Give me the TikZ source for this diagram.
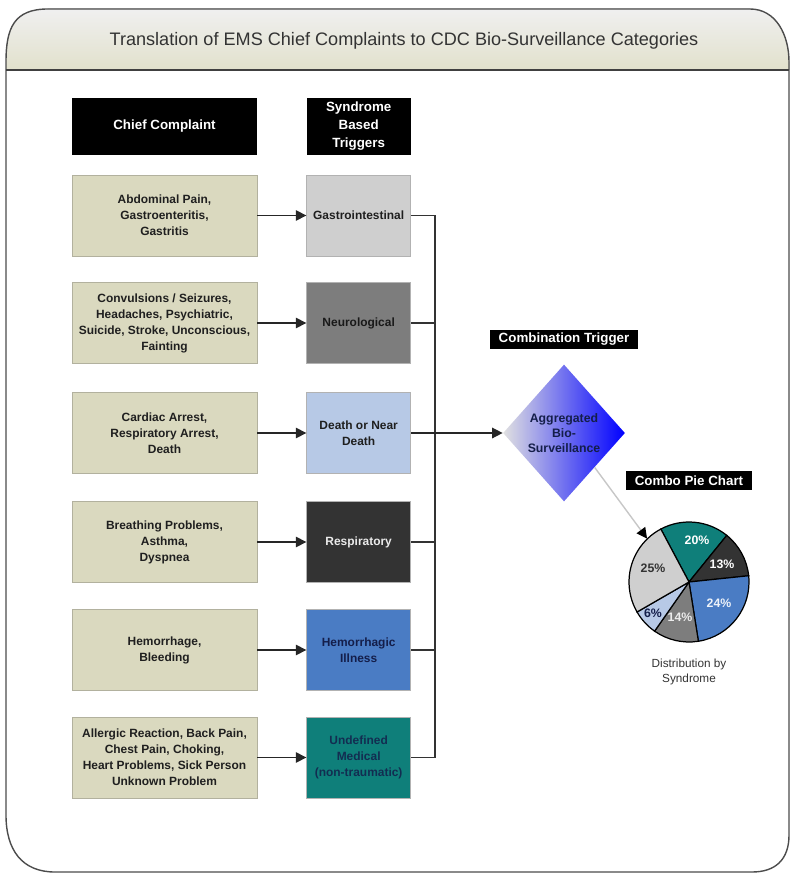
\documentclass[tikz,border=0pt]{standalone}
\usepackage{fontspec}
\setmainfont{Liberation Sans}
\usepackage{xcolor}
\usepackage{tikz}
\usetikzlibrary{calc,positioning,shapes.geometric,arrows.meta}
\definecolor{khaki}{HTML}{DAD9BF}
\definecolor{khakiedge}{HTML}{B2B19E}
\definecolor{gastro}{HTML}{CFCFCF}
\definecolor{neuro}{HTML}{7D7D7D}
\definecolor{death}{HTML}{B7C9E6}
\definecolor{resp}{HTML}{333333}
\definecolor{hemo}{HTML}{4A7CC4}
\definecolor{undef}{HTML}{0F7F7A}
\definecolor{navy}{HTML}{141E4A}
\tikzset{
complaint/.style={
    draw=khakiedge, rectangle, fill=khaki,
    minimum width=3.7cm, minimum height=1.62cm,
    inner sep=2pt, align=center, text=black!88,
    font=\bfseries\fontsize{6.8}{9.1}\selectfont
  }
}

\begin{document}
\begin{tikzpicture}[x=0.02cm,y=0.02cm,
 trigger/.style={
        rectangle, draw=black!30, minimum width=2.08cm,
        minimum height=1.62cm, inner sep=2pt, align=center,
        font=\bfseries\fontsize{6.8}{9.1}\selectfont
    },
 blackbar/.style={rectangle, fill=black, text=white, align=center,
        inner xsep=5pt, inner ysep=1pt,
        font=\bfseries\fontsize{7.6}{10.2}\selectfont},
 frame/.style={draw=black!70, line width=0.8pt},
 link/.style={draw=black!85, line width=0.8pt, -{Triangle[length=6pt,width=6pt]}},
 bus/.style={draw=black!80, line width=0.7pt},
 slice/.style={draw=black, line width=0.7pt},
 pct/.style={font=\bfseries\fontsize{7}{8}\selectfont}
  ]

\useasboundingbox (0,0) rectangle (791,-874);

\fill[top color=black!6, bottom color=khaki!80] (6,-70) -- (6,-62) .. controls (6,-28) and (14,-9) .. (48,-9) -- (750,-9) .. controls (776,-9) and (789,-35) .. (789,-62) -- (789,-70) -- cycle;
\draw[frame] (6,-70) -- (6,-62) .. controls (6,-28) and (14,-9) .. (48,-9) -- (750,-9) .. controls (776,-9) and (789,-35) .. (789,-62) -- (789,-70);
\draw[frame] (6,-70) -- (6,-815) .. controls (6,-850) and (22,-872) .. (55,-872) -- (752,-872) .. controls (775,-872) and (789,-860) .. (789,-835) -- (789,-70);
\draw[draw=black!75, line width=1.3pt] (6,-70) -- (789,-70);
\node[text=black!80, font=\fontsize{10.3}{12}\selectfont] (title) at (404,-41) {Translation of EMS Chief Complaints to CDC Bio-Surveillance Categories};

\node[blackbar, minimum width=3.7cm, minimum height=1.14cm] (H1) at (164.5,-126.5) {Chief Complaint};
\node[blackbar, minimum width=2.08cm, minimum height=1.14cm] (H2) [right=0.98cm of H1] {Syndrome\\Based\\Triggers};

\node[complaint] (C1) at (164.5,-215.5) {Abdominal Pain,\\Gastroenteritis,\\Gastritis};
\node[complaint] (C2) at (164.5,-323) {Convulsions / Seizures,\\Headaches, Psychiatric,\\Suicide, Stroke, Unconscious,\\Fainting};
\node[complaint] (C3) at (164.5,-433) {Cardiac Arrest,\\Respiratory Arrest,\\Death};
\node[complaint] (C4) at (164.5,-542) {Breathing Problems,\\Asthma,\\Dyspnea};
\node[complaint] (C5) at (164.5,-650) {Hemorrhage,\\Bleeding};
\node[complaint] (C6) at (164.5,-757.5) {Allergic Reaction, Back Pain,\\Chest Pain, Choking,\\Heart Problems, Sick Person\\Unknown Problem};

\node[trigger, fill=gastro, text=black!88] (S1) [right=0.98cm of C1] {Gastrointestinal};
\node[trigger, fill=neuro, text=black!90] (S2) [right=0.98cm of C2] {Neurological};
\node[trigger, fill=death, text=black!88] (S3) [right=0.98cm of C3] {Death or Near\\Death};
\node[trigger, fill=resp, text=black!8] (S4) [right=0.98cm of C4] {Respiratory};
\node[trigger, fill=hemo, text=navy] (S5) [right=0.98cm of C5] {Hemorrhagic\\Illness};
\node[trigger, fill=undef, text=navy!85!undef] (S6) [right=0.98cm of C6] {Undefined\\Medical\\(non-traumatic)};

\draw[link] (C1) -- (S1);
\draw[link] (C2) -- (S2);
\draw[link] (C3) -- (S3);
\draw[link] (C4) -- (S4);
\draw[link] (C5) -- (S5);
\draw[link] (C6) -- (S6);

\node[diamond, minimum width=2.44cm, minimum height=2.74cm, inner sep=0pt,
      left color=black!12, right color=blue, align=center, text=navy,
      font=\bfseries\fontsize{7}{8.6}\selectfont] (agg) at (564,-433) {Aggregated\\Bio-\\Surveillance};
\node[blackbar, minimum height=0.38cm] (comb) [above=0.3cm of agg] {Combination Trigger};

\draw[bus] (S1.east) -- ++(24,0) |- (S6.east);
\draw[bus] (S2.east) -- ++(24,0);
\draw[bus] (S4.east) -- ++(24,0);
\draw[bus] (S5.east) -- ++(24,0);
\draw[link] (S3.east) -- (agg.west);

\node[circle, minimum size=2.4cm, inner sep=0pt] (pie) at (689,-582) {};
\node[blackbar, minimum height=0.38cm] (combo) [above=0.62cm of pie] {Combo Pie Chart};
\node[align=center, text=black!80, font=\fontsize{6.7}{8.5}\selectfont] (dist) [below=0.2cm of pie] {Distribution by\\Syndrome};

\filldraw[slice, fill=undef] (pie.center) -- ++(51:1.2cm) arc[start angle=51, end angle=118, radius=1.2cm] -- cycle;
\filldraw[slice, fill=resp] (pie.center) -- ++(6:1.2cm) arc[start angle=6, end angle=51, radius=1.2cm] -- cycle;
\filldraw[slice, fill=hemo] (pie.center) -- ++(-81:1.2cm) arc[start angle=-81, end angle=6, radius=1.2cm] -- cycle;
\filldraw[slice, fill=neuro] (pie.center) -- ++(-125:1.2cm) arc[start angle=-125, end angle=-81, radius=1.2cm] -- cycle;
\filldraw[slice, fill=death] (pie.center) -- ++(-150:1.2cm) arc[start angle=-150, end angle=-125, radius=1.2cm] -- cycle;
\filldraw[slice, fill=gastro] (pie.center) -- ++(118:1.2cm) arc[start angle=118, end angle=210, radius=1.2cm] -- cycle;

\node[pct, text=white] (p20) at ($(pie.center)+(8,42)$) {20\%};
\node[pct, text=white] (p13) at ($(pie.center)+(33,18)$) {13\%};
\node[pct, text=white!90!hemo] (p24) at ($(pie.center)+(30,-21)$) {24\%};
\node[pct, text=white!85!neuro] (p14) at ($(pie.center)+(-9,-35)$) {14\%};
\node[pct, text=navy] (p6) at ($(pie.center)+(-36,-31)$) {6\%};
\node[pct, text=black!80] (p25) at ($(pie.center)+(-36,14)$) {25\%};

\draw[draw=black!22, line width=0.8pt, -{Triangle[length=6pt,width=6pt,color=black]}] (agg.south east) -- (pie.134);
\end{tikzpicture}
\end{document}
